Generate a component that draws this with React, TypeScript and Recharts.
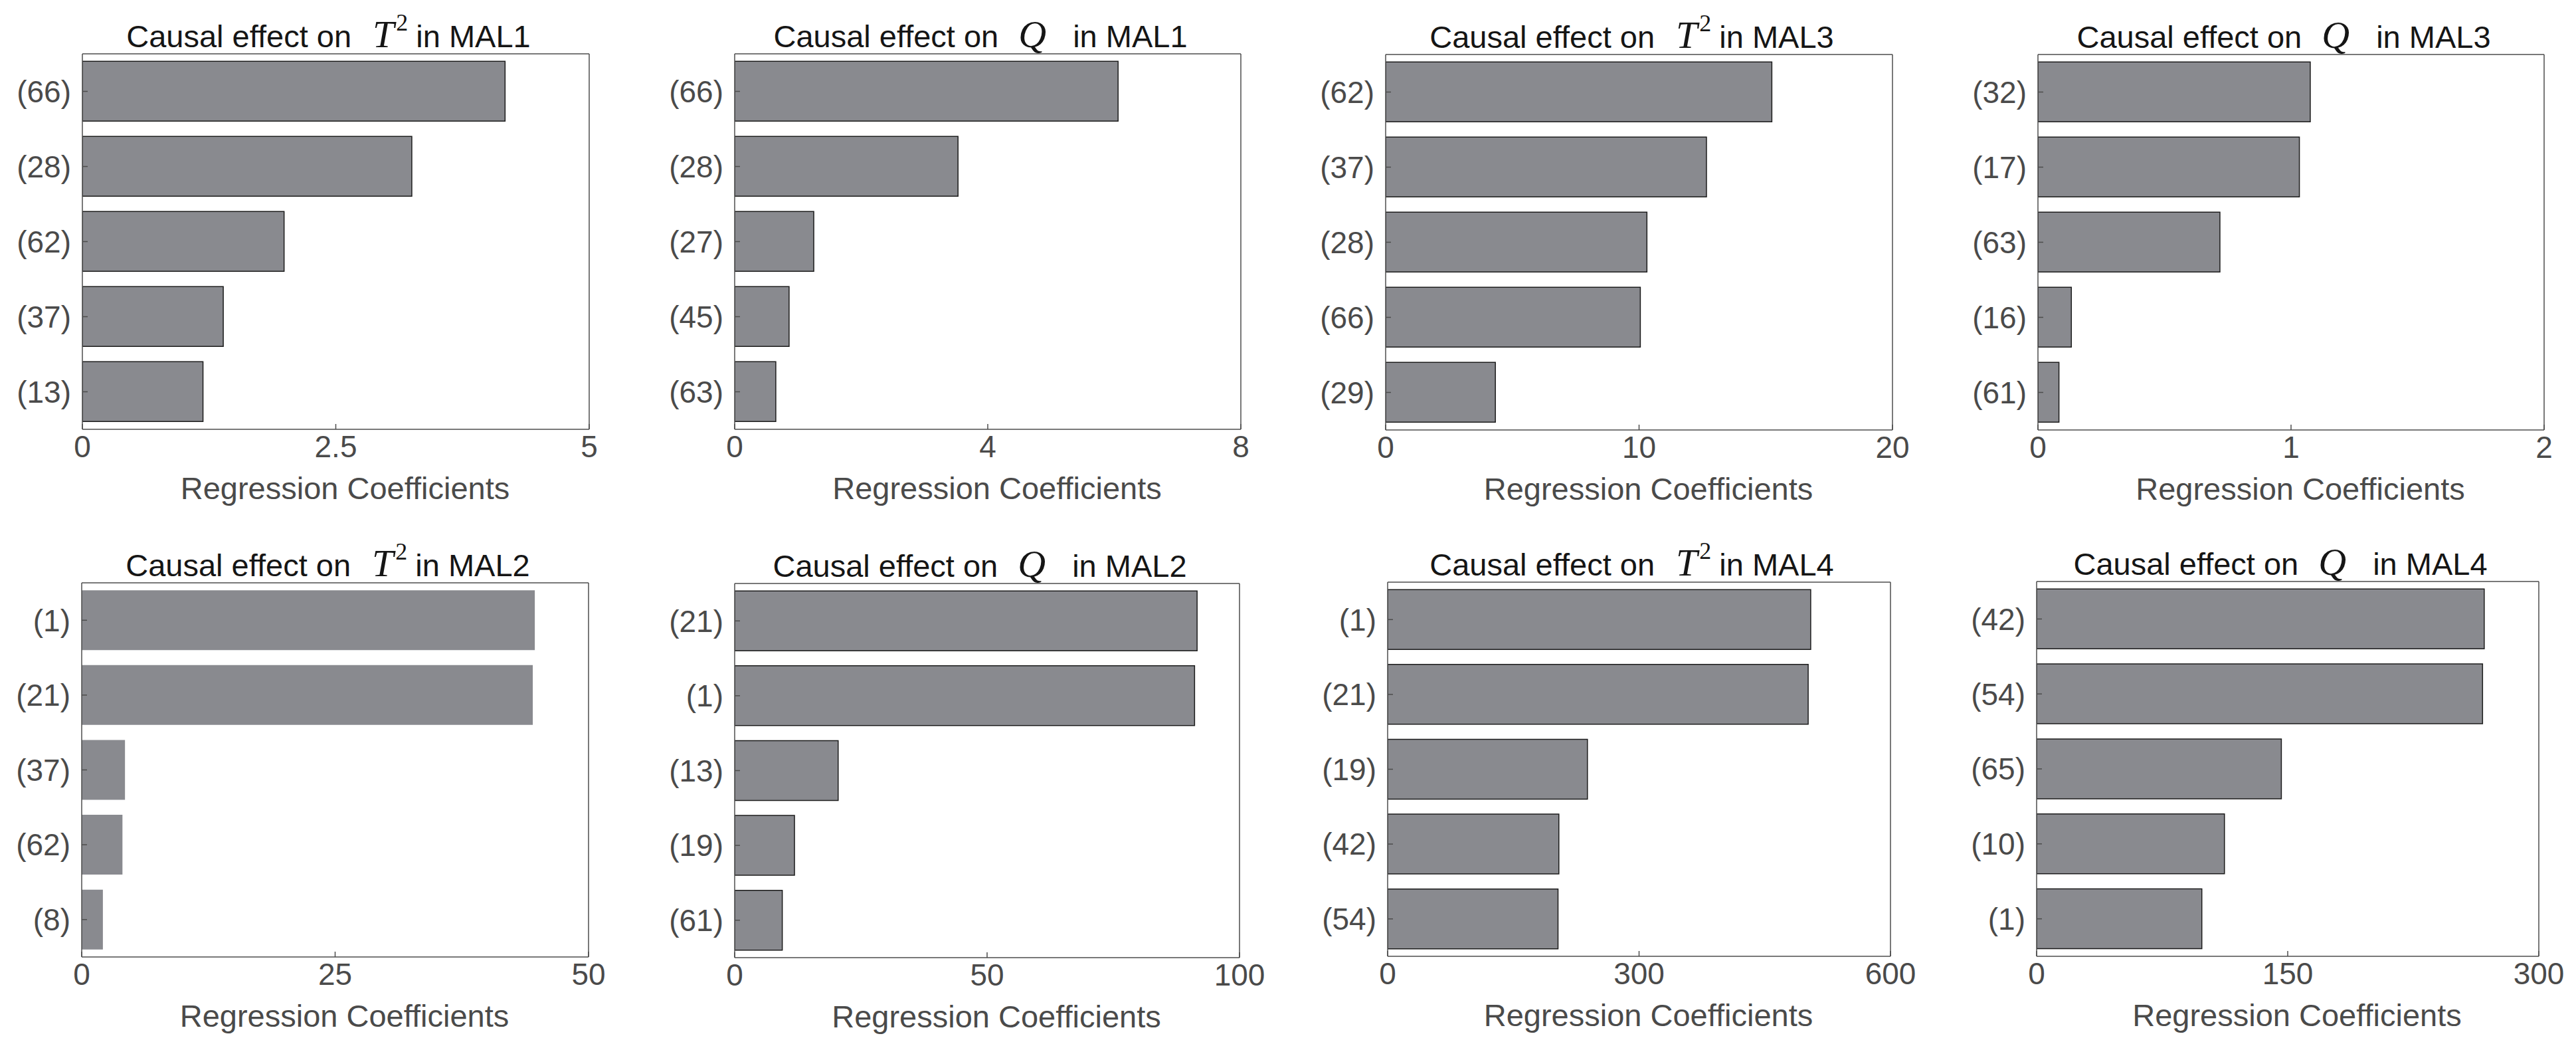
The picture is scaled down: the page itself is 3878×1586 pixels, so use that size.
import React from 'react';
import { BarChart, Bar, XAxis, YAxis } from 'recharts';

// ---------- data ----------
const mal1T2Labels = ['(66)', '(28)', '(62)', '(37)', '(13)'];
const mal1T2Values = [4.17, 3.25, 1.99, 1.39, 1.19];
const mal1T2Ticks = [0, 2.5, 5];

const mal1QLabels = ['(66)', '(28)', '(27)', '(45)', '(63)'];
const mal1QValues = [6.06, 3.53, 1.25, 0.86, 0.65];
const mal1QTicks = [0, 4, 8];

const mal3T2Labels = ['(62)', '(37)', '(28)', '(66)', '(29)'];
const mal3T2Values = [15.24, 12.66, 10.31, 10.05, 4.33];
const mal3T2Ticks = [0, 10, 20];

const mal3QLabels = ['(32)', '(17)', '(63)', '(16)', '(61)'];
const mal3QValues = [1.076, 1.033, 0.719, 0.132, 0.083];
const mal3QTicks = [0, 1, 2];

const mal2T2Labels = ['(1)', '(21)', '(37)', '(62)', '(8)'];
const mal2T2Values = [44.7, 44.5, 4.27, 4.02, 2.09];
const mal2T2Ticks = [0, 25, 50];

const mal2QLabels = ['(21)', '(1)', '(13)', '(19)', '(61)'];
const mal2QValues = [91.6, 91.1, 20.5, 11.85, 9.43];
const mal2QTicks = [0, 50, 100];

const mal4T2Labels = ['(1)', '(21)', '(19)', '(42)', '(54)'];
const mal4T2Values = [504.8, 501.8, 238.4, 204.3, 203.3];
const mal4T2Ticks = [0, 300, 600];

const mal4QLabels = ['(42)', '(54)', '(65)', '(10)', '(1)'];
const mal4QValues = [267.4, 266.4, 146.2, 112.2, 98.7];
const mal4QTicks = [0, 150, 300];

const xLabel = 'Regression Coefficients';

// ---------- style ----------
const FILL = '#898a8f';
const EDGE = '#1c1c1c';
const AXIS = '#4d4d4d';
const TICKTEXT = '#4a4a4a';
const TITLE = '#151515';
const SANS = '"Liberation Sans", Arial, Helvetica, sans-serif';
const SERIF = '"Liberation Serif", "Times New Roman", serif';

type PanelDef = {
  sym: 'T2' | 'Q';
  mal: string;
  labels: string[];
  values: number[];
  ticks: number[];
  L: number;
  R: number;
  T: number;
  B: number;
  edge: boolean;
};

const panels: PanelDef[] = [
  { sym: 'T2', mal: 'MAL1', labels: mal1T2Labels, values: mal1T2Values, ticks: mal1T2Ticks, L: 124, R: 887, T: 81, B: 646, edge: true },
  { sym: 'Q', mal: 'MAL1', labels: mal1QLabels, values: mal1QValues, ticks: mal1QTicks, L: 1106, R: 1868, T: 81, B: 646, edge: true },
  { sym: 'T2', mal: 'MAL3', labels: mal3T2Labels, values: mal3T2Values, ticks: mal3T2Ticks, L: 2086, R: 2849, T: 82, B: 647, edge: true },
  { sym: 'Q', mal: 'MAL3', labels: mal3QLabels, values: mal3QValues, ticks: mal3QTicks, L: 3068, R: 3830, T: 82, B: 647, edge: true },
  { sym: 'T2', mal: 'MAL2', labels: mal2T2Labels, values: mal2T2Values, ticks: mal2T2Ticks, L: 123, R: 886, T: 877, B: 1440, edge: false },
  { sym: 'Q', mal: 'MAL2', labels: mal2QLabels, values: mal2QValues, ticks: mal2QTicks, L: 1106, R: 1866, T: 878, B: 1441, edge: true },
  { sym: 'T2', mal: 'MAL4', labels: mal4T2Labels, values: mal4T2Values, ticks: mal4T2Ticks, L: 2089, R: 2846, T: 876, B: 1439, edge: true },
  { sym: 'Q', mal: 'MAL4', labels: mal4QLabels, values: mal4QValues, ticks: mal4QTicks, L: 3066, R: 3822, T: 875, B: 1439, edge: true },
];

const LEFT_W = 130;
const TOP_M = 9;
const TOP_H = 1;
const RIGHT_W = 1;
const RIGHT_M = 50;
const BOTTOM_H = 72;
const TICK_FS = 46;

function PanelChart({ p }: { p: PanelDef }) {
  const W = p.R - p.L;
  const H = p.B - p.T;
  const data = p.labels.map((name, i) => ({ name, value: p.values[i] }));
  const max = p.ticks[p.ticks.length - 1];
  return (
    <div style={{ position: 'absolute', left: p.L - LEFT_W, top: p.T - TOP_M - TOP_H }}>
      <BarChart
        width={LEFT_W + W + RIGHT_W + RIGHT_M}
        height={TOP_M + TOP_H + H + BOTTOM_H}
        data={data}
        layout="vertical"
        margin={{ top: TOP_M, right: RIGHT_M, bottom: 0, left: 0 }}
        barCategoryGap="10%"
      >
        <XAxis
          xAxisId="bottom"
          type="number"
          orientation="bottom"
          domain={[0, max]}
          ticks={p.ticks}
          interval={0}
          allowDataOverflow
          height={BOTTOM_H}
          tickSize={-8}
          tickMargin={17}
          stroke={AXIS}
          strokeWidth={1.5}
          tick={{ fill: TICKTEXT, fontSize: TICK_FS, fontFamily: SANS }}
        />
        <XAxis
          xAxisId="top"
          type="number"
          orientation="top"
          domain={[0, max]}
          ticks={p.ticks}
          interval={0}
          allowDataOverflow
          height={TOP_H}
          tickSize={-8}
          stroke={AXIS}
          strokeWidth={1.5}
          tick={false}
        />
        <YAxis
          yAxisId="left"
          type="category"
          dataKey="name"
          orientation="left"
          width={LEFT_W}
          interval={0}
          tickSize={-8}
          tickMargin={25}
          stroke={AXIS}
          strokeWidth={1.5}
          tick={{ fill: TICKTEXT, fontSize: TICK_FS, fontFamily: SANS }}
        />
        <YAxis
          yAxisId="right"
          type="category"
          dataKey="name"
          orientation="right"
          width={RIGHT_W}
          interval={0}
          tickSize={-8}
          stroke={AXIS}
          strokeWidth={1.5}
          tick={false}
        />
        <Bar
          xAxisId="bottom"
          yAxisId="left"
          dataKey="value"
          fill={FILL}
          stroke={p.edge ? EDGE : 'none'}
          strokeWidth={1.5}
          isAnimationActive={false}
        />
      </BarChart>
    </div>
  );
}

function Titles() {
  return (
    <svg
      width={3878}
      height={1586}
      style={{ position: 'absolute', left: 0, top: 0, pointerEvents: 'none' }}
    >
      {panels.map((p, i) => {
        const cx = (p.L + p.R) / 2;
        return (
          <g key={i}>
            <text x={cx - 11} y={p.T - 10} textAnchor="middle" fontFamily={SANS} fontSize={47} fill={TITLE}>
              <tspan>Causal effect on</tspan>
              {p.sym === 'T2' ? (
                <>
                  <tspan dx={32} fontFamily={SERIF} fontStyle="italic" fontSize={58}>T</tspan>
                  <tspan dx={3} dy={-25} fontFamily={SERIF} fontSize={36}>2</tspan>
                  <tspan dx={12} dy={25}>{'in ' + p.mal}</tspan>
                </>
              ) : (
                <>
                  <tspan dx={30} fontFamily={SERIF} fontStyle="italic" fontSize={58}>Q</tspan>
                  <tspan dx={40}>{'in ' + p.mal}</tspan>
                </>
              )}
            </text>
            <text x={cx + 14} y={p.B + 105} textAnchor="middle" fontFamily={SANS} fontSize={47} fill={TICKTEXT}>
              {xLabel}
            </text>
          </g>
        );
      })}
    </svg>
  );
}

export default function App() {
  return (
    <div style={{ position: 'absolute', left: 0, top: 0, width: 3878, height: 1586, background: '#ffffff', overflow: 'hidden' }}>
      {panels.map((p, i) => (
        <PanelChart key={i} p={p} />
      ))}
      <Titles />
    </div>
  );
}
